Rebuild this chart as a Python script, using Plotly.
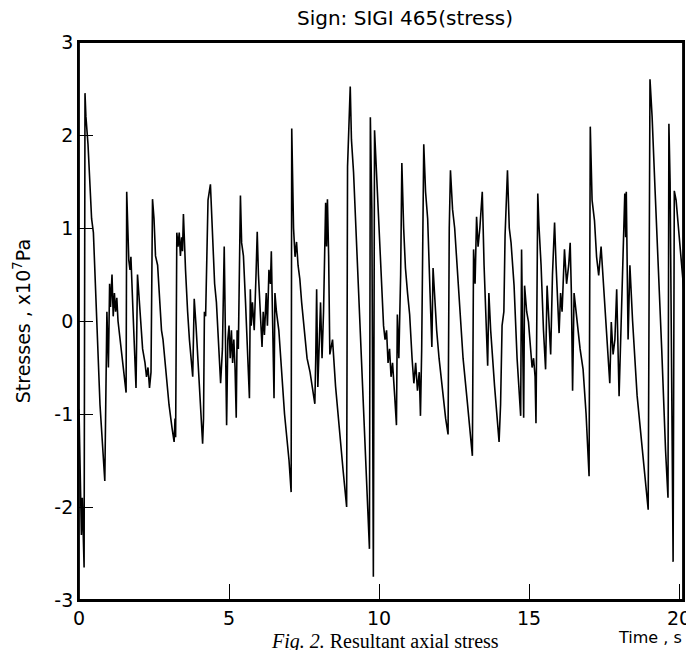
import plotly.graph_objects as go

# time (s) and stress (x10^7 Pa)
time_s = [
    0.00, 0.08, 0.11, 0.17, 0.20, 0.23, 0.30, 0.42, 0.48, 0.70, 0.86, 0.90, 0.93, 0.98,
    1.02, 1.05, 1.10, 1.14, 1.18, 1.22, 1.26, 1.30, 1.40, 1.57, 1.59, 1.63, 1.66, 1.70,
    1.73, 1.80, 1.90, 1.95, 2.05, 2.12, 2.20, 2.25, 2.30, 2.35, 2.40, 2.45, 2.50, 2.55,
    2.62, 2.75, 2.80, 3.00, 3.10, 3.17, 3.20, 3.22, 3.26, 3.30, 3.34, 3.38, 3.42, 3.45,
    3.48, 3.52, 3.55, 3.62, 3.68, 3.79, 3.84, 3.90, 4.00, 4.08, 4.12, 4.15, 4.18, 4.22,
    4.30, 4.38, 4.45, 4.52, 4.58, 4.65, 4.72, 4.78, 4.84, 4.92, 4.96, 5.00, 5.04, 5.08,
    5.12, 5.16, 5.20, 5.24, 5.27, 5.31, 5.38, 5.42, 5.48, 5.55, 5.62, 5.68, 5.71, 5.74,
    5.78, 5.84, 5.90, 5.94, 5.98, 6.02, 6.06, 6.10, 6.14, 6.18, 6.24, 6.28, 6.33, 6.38,
    6.41, 6.45, 6.50, 6.53, 6.58, 6.66, 6.72, 6.85, 7.00, 7.07, 7.09, 7.15, 7.20, 7.25,
    7.30, 7.36, 7.42, 7.50, 7.60, 7.70, 7.78, 7.86, 7.89, 7.92, 7.96, 8.00, 8.05, 8.10,
    8.15, 8.22, 8.25, 8.28, 8.32, 8.36, 8.45, 8.55, 8.70, 8.80, 8.92, 8.95, 9.04, 9.08,
    9.15, 9.30, 9.45, 9.58, 9.68, 9.71, 9.76, 9.81, 9.85, 9.90, 9.98, 10.05, 10.12, 10.15,
    10.20, 10.25, 10.30, 10.35, 10.40, 10.45, 10.52, 10.58, 10.61, 10.66, 10.72, 10.76,
    10.82, 10.88, 10.95, 11.02, 11.10, 11.16, 11.22, 11.28, 11.34, 11.38, 11.42, 11.49,
    11.55, 11.62, 11.70, 11.76, 11.80, 11.86, 11.92, 12.00, 12.12, 12.22, 12.30, 12.34,
    12.38, 12.45, 12.52, 12.60, 12.68, 12.80, 12.95, 13.05, 13.11, 13.15, 13.20, 13.25,
    13.30, 13.36, 13.44, 13.50, 13.56, 13.62, 13.66, 13.72, 13.85, 13.95, 14.00, 14.05,
    14.10, 14.16, 14.20, 14.28, 14.34, 14.40, 14.45, 14.50, 14.60, 14.68, 14.72, 14.75,
    14.82, 14.85, 14.92, 14.98, 15.05, 15.10, 15.15, 15.20, 15.23, 15.26, 15.29, 15.33,
    15.40, 15.48, 15.55, 15.60, 15.65, 15.72, 15.78, 15.85, 15.90, 15.95, 16.00, 16.05,
    16.10, 16.18, 16.25, 16.32, 16.37, 16.41, 16.45, 16.50, 16.60, 16.70, 16.80, 16.90,
    17.00, 17.04, 17.10, 17.18, 17.25, 17.32, 17.40, 17.48, 17.58, 17.69, 17.74, 17.80,
    17.86, 17.92, 18.00, 18.06, 18.12, 18.19, 18.22, 18.24, 18.30, 18.36, 18.45, 18.60,
    18.75, 18.85, 18.97, 19.03, 19.10, 19.20, 19.30, 19.42, 19.55, 19.63, 19.66, 19.70,
    19.80, 19.84, 19.90, 20.00, 20.10, 20.27, 20.40,
]
stress = [
    -0.95, -2.30, -1.90, -2.65, 2.45, 2.20, 1.90, 1.10, 0.95, -0.90, -1.72, -0.20, 0.10, -0.50,
    0.40, 0.15, 0.50, 0.05, 0.30, 0.10, 0.25, 0.00, -0.30, -0.77, 1.39, 0.95, 0.65, 0.55,
    0.69, 0.10, -0.72, 0.50, 0.00, -0.30, -0.45, -0.60, -0.50, -0.72, -0.55, 1.31, 1.10, 0.70,
    0.60, -0.10, -0.20, -0.90, -1.15, -1.30, -1.05, -1.25, 0.95, 0.80, 0.95, 0.70, 0.90, 0.75,
    1.15, 0.75, 0.55, 0.10, -0.20, -0.60, 0.24, -0.05, -0.60, -1.05, -1.32, -1.05, 0.10, 0.05,
    1.30, 1.47, 0.90, 0.40, 0.20, -0.30, -0.67, -0.30, 0.80, -1.12, -0.20, -0.05, -0.40, -0.10,
    -0.45, -0.20, -0.50, -1.04, -0.10, -0.30, 1.35, 0.84, 0.70, 0.20, -0.40, -0.83, 0.34, -0.05,
    0.20, -0.10, 0.50, 0.96, 0.50, 0.20, -0.10, -0.28, 0.10, -0.15, 0.30, -0.05, 0.55, 0.40,
    0.75, 0.20, -0.83, 0.30, 0.10, -0.10, -0.36, -1.00, -1.50, -1.84, 2.07, 1.00, 0.69, 0.85,
    0.60, 0.45, 0.20, -0.09, -0.40, -0.55, -0.70, -0.89, -0.40, 0.34, -0.71, -0.20, 0.20, -0.40,
    0.10, 1.27, 0.80, 1.31, 0.70, -0.36, -0.20, -0.70, -1.30, -1.60, -2.00, 1.66, 2.52, 1.95,
    1.60, 0.50, -0.60, -1.60, -2.45, 2.19, 1.20, -2.75, 2.05, 1.70, 1.10, 0.60, 0.10, -0.05,
    -0.20, -0.10, -0.45, -0.30, -0.60, -0.45, -0.80, -1.12, 0.07, -0.40, 0.50, 1.70,
    1.00, 0.57, 0.30, 0.07, -0.40, -0.67, -0.45, -0.75, -0.55, -1.02, -0.32, 1.90,
    1.39, 1.10, 0.30, -0.28, 0.57, 0.20, -0.10, -0.40, -0.80, -1.05, -1.22, 1.00,
    1.62, 1.20, 1.00, 0.60, 0.14, -0.40, -0.90, -1.20, -1.45, 0.77, 0.40, 1.12,
    0.80, 1.00, 1.39, 0.60, -0.05, -0.48, 0.30, -0.10, -0.70, -1.05, -1.30, -0.90,
    -0.05, 0.10, 0.92, 1.62, 1.00, 0.84, 0.60, 0.38, -0.40, -0.80, -1.02, 0.77,
    -1.04, 0.38, 0.10, -0.01, -0.35, -0.50, -0.40, -0.60, -1.10, 0.40, 1.37, 1.02,
    0.60, -0.10, -0.52, 0.38, 0.10, -0.36, 0.50, 1.06, 0.60, 0.20, -0.13, 0.30,
    0.10, 0.77, 0.40, 0.60, 0.84, 0.30, -0.75, 0.30, 0.00, -0.30, -0.52, -1.00,
    -1.67, 2.09, 1.30, 1.08, 0.69, 0.49, 0.80, 0.40, -0.20, -0.67, -0.01, -0.36,
    -0.20, 0.34, -0.81, -0.20, 0.50, 1.37, 0.90, 1.39, -0.20, 0.60, 0.00, -0.80,
    -1.30, -1.65, -2.03, 2.60, 2.20, 1.40, 0.70, -0.30, -1.40, -1.90, 2.12, 1.50,
    -2.59, 1.40, 1.30, 0.90, 0.50, -0.10, -1.00,
]

x_ticks = [0, 5, 10, 15, 20]
y_ticks = [-3, -2, -1, 0, 1, 2, 3]
y_labels = ["-3", "-2", "-1", "0", "1", "2", "3"]

font = "DejaVu Sans"

fig = go.Figure()
fig.add_trace(go.Scatter(x=time_s, y=stress, mode="lines",
                         line=dict(color="black", width=1.6), showlegend=False))

fig.update_xaxes(range=[0, 20.13], tickvals=x_ticks, ticks="inside", ticklen=16,
                 tickcolor="black", showline=True, linecolor="black", linewidth=1.8,
                 mirror=True, showgrid=False, zeroline=False, automargin=False,
                 ticklabeloverflow="allow",
                 tickfont=dict(family=font, size=19, color="black"))
fig.update_yaxes(range=[-3, 3], tickvals=y_ticks, ticktext=y_labels, ticks="inside",
                 ticklen=14, tickcolor="black", showline=True, linecolor="black",
                 linewidth=1.8, mirror=True, showgrid=False, zeroline=False,
                 automargin=False, tickfont=dict(family=font, size=19, color="black"))

# frame drawn as a shape as well, so the right edge is sure to show
fig.add_shape(type="rect", xref="paper", yref="paper", x0=0, x1=1, y0=0, y1=1,
              line=dict(color="black", width=1.8), layer="above")

# the page body adds an 8px margin, so the figure is kept inside the window
fig.update_layout(
    width=678, height=642,
    margin=dict(l=71, r=3, t=34, b=50),
    paper_bgcolor="white", plot_bgcolor="white",
    font=dict(family=font, color="black"),
    annotations=[
        dict(text="Sign: SIGI 465(stress)", x=0.540, xref="paper", y=1.043, yref="paper",
             xanchor="center", yanchor="middle", showarrow=False,
             font=dict(family=font, size=20, color="black")),
        dict(text="Stresses , x10<sup>7</sup>Pa", x=-0.094, xref="paper", y=0.50, yref="paper",
             textangle=-90, xanchor="center", yanchor="middle", showarrow=False,
             font=dict(family=font, size=19, color="black")),
        dict(text="Time , s", x=1.002, xref="paper", y=-0.067, yref="paper",
             xanchor="right", yanchor="middle", showarrow=False,
             font=dict(family=font, size=16, color="black")),
        dict(text="<i>Fig. 2.</i> Resultant axial stress", x=0.507, xref="paper", y=-0.050,
             yref="paper", xanchor="center", yanchor="top", showarrow=False,
             font=dict(family="Liberation Serif", size=20, color="black")),
    ],
)

fig.write_html("out.html")
